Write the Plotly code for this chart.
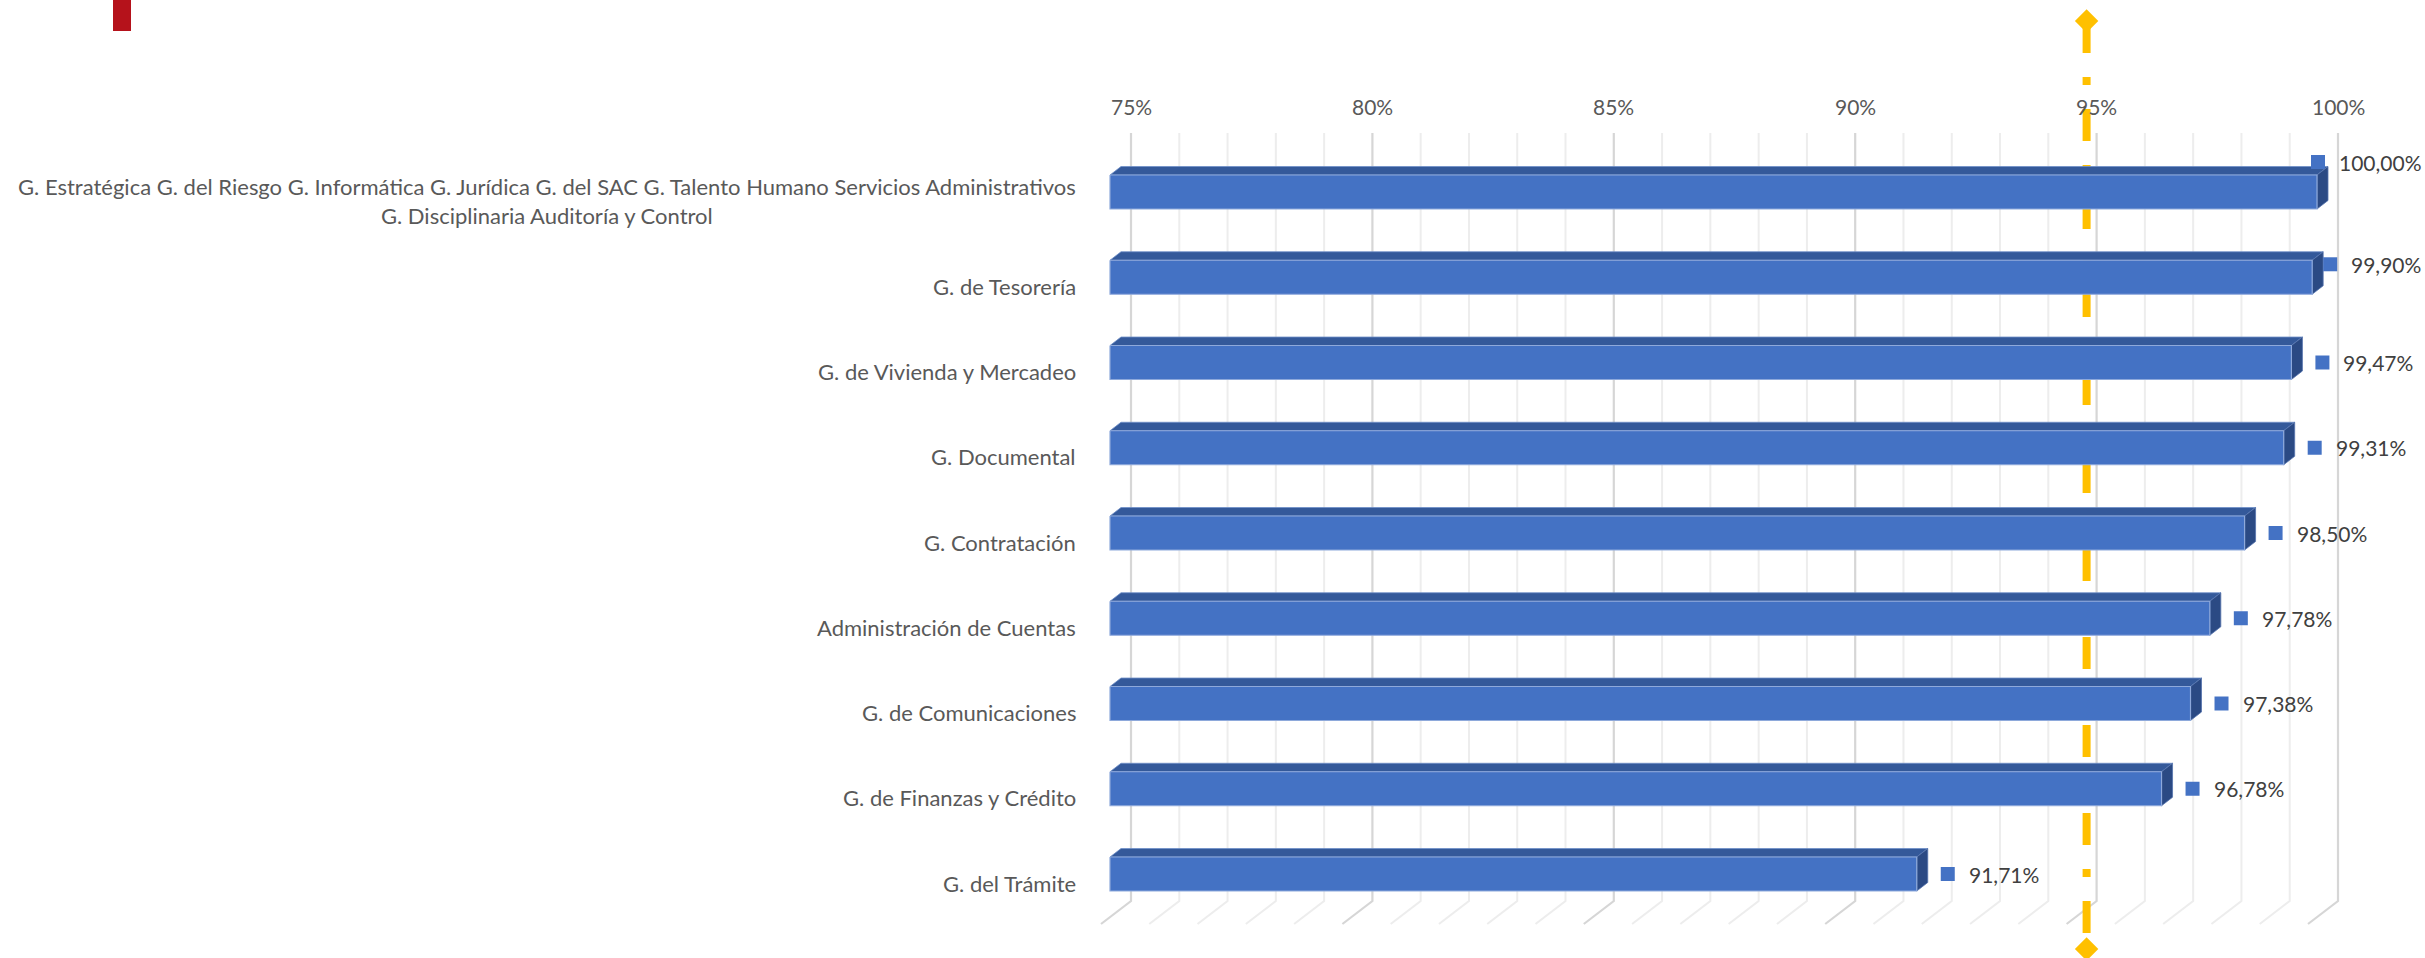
import textwrap
import plotly.graph_objects as go

# ---- data -----------------------------------------------------------------
categories = [
    "G. Estratégica G. del Riesgo G. Informática G. Jurídica G. del SAC "
    "G. Talento Humano Servicios Administrativos G. Disciplinaria Auditoría y Control",
    "G. de Tesorería",
    "G. de Vivienda y Mercadeo",
    "G. Documental",
    "G. Contratación",
    "Administración de Cuentas",
    "G. de Comunicaciones",
    "G. de Finanzas y Crédito",
    "G. del Trámite",
]
values = [100.00, 99.90, 99.47, 99.31, 98.50, 97.78, 97.38, 96.78, 91.71]
target = 95.0
axis_min, axis_max = 75, 100
tick_values = [75, 80, 85, 90, 95, 100]
tick_labels = [f"{t}%" for t in tick_values]

# ---- page geometry / scales -------------------------------------------------
W, H = 2425, 958
PX_PER_PCT = 48.28      # pixels per percentage point on the value axis
X0_PX = 1131            # back-wall position of axis_min
PX_PER_ROW = 85.25      # pixels between category rows
ROW0_PX = 192           # centre of the first row (bar front face)


def dx(px):
    return px / PX_PER_PCT


def dy(px):
    return px / PX_PER_ROW


def x_of_px(px):
    return axis_min + (px - X0_PX) / PX_PER_PCT


def row_of_px(py):
    return (py - ROW0_PX) / PX_PER_ROW


FONT = "Lato, 'Open Sans', sans-serif"
BLUE = "#4472C4"
TOP_FACE = "#34599A"
SIDE_FACE = "#2B4A84"
GOLD = "#FFC000"

# 3-D box settings (pixels)
WALL_TOP_PX, WALL_BOTTOM_PX = 133, 901
FLOOR_DX_PX, FLOOR_DY_PX = -30, 23
BAR_FRONT_PX = -21          # bar front face, relative to the back wall
BAR_DEPTH_X_PX, BAR_DEPTH_Y_PX = 11, 8.5
BAR_HEIGHT_PX = 34

fig = go.Figure()

# ---- back wall gridlines + floor diagonals ----------------------------------
wall_top, wall_bottom = row_of_px(WALL_TOP_PX), row_of_px(WALL_BOTTOM_PX)
grid = {"major": ([], []), "minor": ([], [])}
for t in range(axis_min, axis_max + 1):
    key = "major" if t % 5 == 0 else "minor"
    xs, ys = grid[key]
    xs += [t, t, t + dx(FLOOR_DX_PX), None]
    ys += [wall_top, wall_bottom, wall_bottom + dy(FLOOR_DY_PX), None]

fig.add_trace(go.Scatter(x=grid["minor"][0], y=grid["minor"][1], mode="lines",
                         line=dict(color="#EDEDED", width=2), hoverinfo="skip"))
fig.add_trace(go.Scatter(x=grid["major"][0], y=grid["major"][1], mode="lines",
                         line=dict(color="#D6D6D6", width=2.2), hoverinfo="skip"))

# ---- target line (sits on the back plane of the bars) -----------------------
target_x = target + dx(BAR_FRONT_PX + BAR_DEPTH_X_PX)
fig.add_trace(go.Scatter(
    x=[target_x, target_x], y=[row_of_px(21), row_of_px(949)],
    mode="lines+markers",
    line=dict(color=GOLD, width=8, dash="32px,24px,8px,24px"),
    marker=dict(symbol="diamond", size=18, color=GOLD, line=dict(width=0)),
    hoverinfo="skip"))

# ---- 3-D bars ---------------------------------------------------------------
half = dy(BAR_HEIGHT_PX / 2)
ddx, ddy = dx(BAR_DEPTH_X_PX), dy(-BAR_DEPTH_Y_PX)
front_x, front_y, top_x, top_y, side_x, side_y = [], [], [], [], [], []
for i, v in enumerate(values):
    x0 = axis_min + dx(BAR_FRONT_PX)
    x1 = v + dx(BAR_FRONT_PX)
    yt, yb = i - half, i + half
    front_x += [x0, x1, x1, x0, x0, None]
    front_y += [yt, yt, yb, yb, yt, None]
    top_x += [x0, x0 + ddx, x1 + ddx, x1, x0, None]
    top_y += [yt, yt + ddy, yt + ddy, yt, yt, None]
    side_x += [x1, x1 + ddx, x1 + ddx, x1, x1, None]
    side_y += [yt, yt + ddy, yb + ddy, yb, yt, None]

fig.add_trace(go.Scatter(x=top_x, y=top_y, fill="toself", fillcolor=TOP_FACE,
                         mode="lines", line=dict(width=0.8, color="#6F8FC8"),
                         hoverinfo="skip"))
fig.add_trace(go.Scatter(x=side_x, y=side_y, fill="toself", fillcolor=SIDE_FACE,
                         mode="lines", line=dict(width=0.8, color="#5573AD"),
                         hoverinfo="skip"))
fig.add_trace(go.Scatter(x=front_x, y=front_y, fill="toself", fillcolor=BLUE,
                         mode="lines", line=dict(width=1.2, color="#8EA9DB"),
                         hoverinfo="skip"))

# ---- data labels (legend key + value), kept inside the page -----------------
LABEL_RIGHT_LIMIT_PX = 2420
KEY_GAP_PX, KEY_SIZE_PX, TEXT_GAP_PX = 24, 14, 26


def label_width_px(s):
    return sum(12.2 if c.isdigit() else 5.5 if c == "," else 16.5 for c in s)


annotations = []
key_x, key_y = [], []
for i, v in enumerate(values):
    text = f"{v:.2f}".replace(".", ",") + "%"
    end_px = X0_PX + (v - axis_min) * PX_PER_PCT + BAR_FRONT_PX
    key_left = end_px + KEY_GAP_PX
    text_left = key_left + TEXT_GAP_PX
    overflow = max(0.0, text_left + label_width_px(text) - LABEL_RIGHT_LIMIT_PX)
    key_left -= overflow
    text_left -= overflow
    y = i + dy(-overflow)
    key_x.append(x_of_px(key_left + KEY_SIZE_PX / 2))
    key_y.append(y)
    annotations.append(dict(x=x_of_px(text_left), y=y, xref="x", yref="y",
                            text=text, showarrow=False, xanchor="left",
                            yanchor="middle",
                            font=dict(family=FONT, size=21, color="#404040")))

fig.add_trace(go.Scatter(x=key_x, y=key_y, mode="markers",
                         marker=dict(symbol="square", size=KEY_SIZE_PX, color=BLUE,
                                     line=dict(width=0)),
                         hoverinfo="skip"))

# ---- category labels --------------------------------------------------------
cat_x = axis_min + dx(BAR_FRONT_PX - 32)
for i, name in enumerate(categories):
    annotations.append(dict(x=cat_x, y=i + dy(9), xref="x", yref="y",
                            text="<br>".join(textwrap.wrap(name, 110)),
                            showarrow=False, xanchor="right", yanchor="middle",
                            align="center",
                            font=dict(family=FONT, size=22, color="#595959")))

# ---- value-axis tick labels along the top of the back wall ------------------
for t, lab in zip(tick_values, tick_labels):
    annotations.append(dict(x=t, y=row_of_px(106), xref="x", yref="y", text=lab,
                            showarrow=False, xanchor="center", yanchor="middle",
                            font=dict(family=FONT, size=21, color="#595959")))

fig.update_layout(
    width=W, height=H,
    margin=dict(l=0, r=0, t=0, b=0, pad=0),
    paper_bgcolor="white", plot_bgcolor="white",
    showlegend=False,
    xaxis=dict(range=[x_of_px(0), x_of_px(W)], visible=False, fixedrange=True),
    yaxis=dict(range=[row_of_px(H), row_of_px(0)], visible=False, fixedrange=True),
    annotations=annotations,
    shapes=[dict(type="rect", xref="paper", yref="paper",
                 x0=113 / W, x1=131 / W, y0=1 - 31 / H, y1=1,
                 fillcolor="#B5121B", line=dict(width=0), layer="above")],
)

fig.write_html("out.html")
